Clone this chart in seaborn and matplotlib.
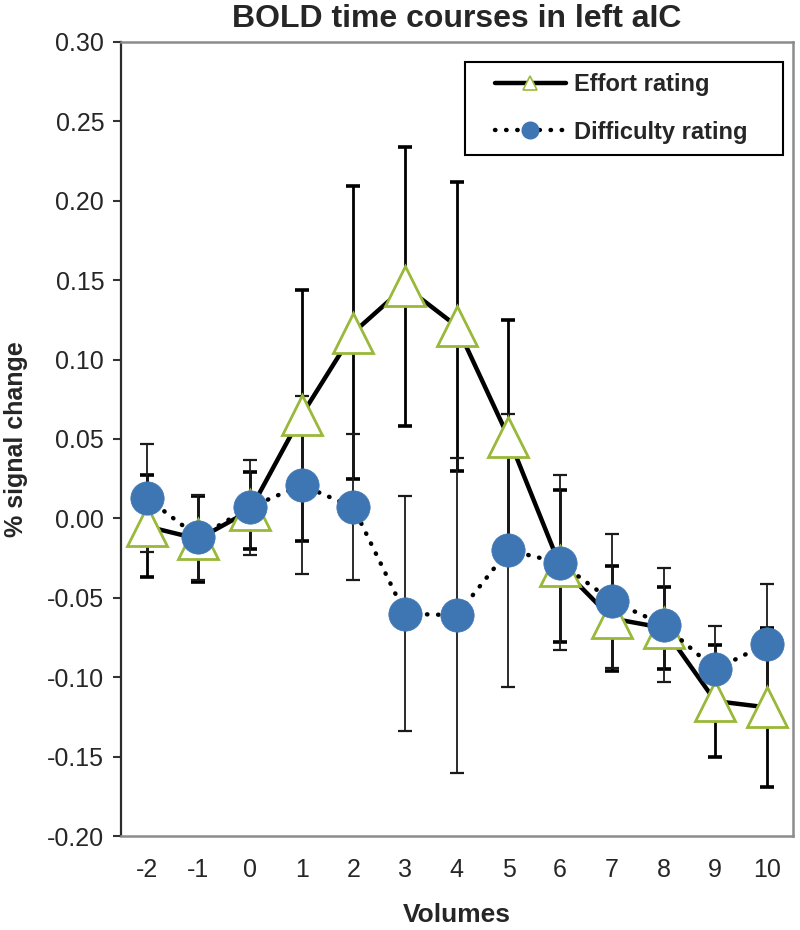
import numpy as np
import seaborn as sns
import matplotlib.pyplot as plt
from matplotlib.lines import Line2D
from matplotlib.patches import Rectangle

# Data
volumes = [-2, -1, 0, 1, 2, 3, 4, 5, 6, 7, 8, 9, 10]
effort = [-0.005, -0.013, 0.005, 0.065, 0.117, 0.146, 0.121, 0.051, -0.030, -0.063, -0.069, -0.115, -0.119]
effort_err = [0.032, 0.027, 0.024, 0.079, 0.092, 0.088, 0.091, 0.074, 0.048, 0.033, 0.026, 0.035, 0.050]
difficulty = [0.013, -0.012, 0.007, 0.021, 0.007, -0.060, -0.061, -0.020, -0.028, -0.052, -0.067, -0.095, -0.079]
difficulty_err = [0.034, 0.027, 0.030, 0.056, 0.046, 0.074, 0.099, 0.086, 0.055, 0.042, 0.036, 0.027, 0.038]
y_ticks = [-0.20, -0.15, -0.10, -0.05, 0.00, 0.05, 0.10, 0.15, 0.20, 0.25, 0.30]

blue = '#3E76B3'
olive = '#9AB83A'

sns.set_style("white")
plt.rcParams['font.family'] = ['Liberation Sans', 'DejaVu Sans']

fig, ax = plt.subplots(figsize=(8, 9.3), dpi=100)
fig.subplots_adjust(left=0.151, right=0.991, top=0.955, bottom=0.101)

# Error bars underneath everything
ax.errorbar(volumes, effort, yerr=effort_err, fmt='none', ecolor='black',
            elinewidth=2.0, capsize=4.7, capthick=2.6, zorder=1)
ax.errorbar(volumes, difficulty, yerr=difficulty_err, fmt='none', ecolor='#1a1a1a',
            elinewidth=1.3, capsize=4.7, capthick=1.6, zorder=1)

# Effort: solid black line with open olive triangles
sns.lineplot(x=volumes, y=effort, ax=ax, color='black', linewidth=3.2,
             marker='^', markersize=29, markerfacecolor='white',
             markeredgecolor=olive, markeredgewidth=2.0, zorder=3)

# Difficulty: dotted line with blue circles
sns.lineplot(x=volumes, y=difficulty, ax=ax, color='black', linewidth=3.2,
             marker='o', markersize=24, markerfacecolor=blue,
             markeredgecolor=blue, markeredgewidth=0.5, zorder=4)
ax.lines[-1].set_linestyle((0, (0.1, 2.4)))
ax.lines[-1].set_dash_capstyle('round')

ax.set_xlim(-2.5, 10.5)
ax.set_ylim(-0.20, 0.30)
ax.set_xticks(volumes)
ax.set_xticklabels([str(v) for v in volumes])
ax.set_yticks(y_ticks)
ax.set_yticklabels([f'{t:.2f}' for t in y_ticks])
ax.tick_params(axis='x', length=0, pad=16, labelsize=18)
ax.tick_params(axis='y', left=True, direction='out', length=6, width=1.5,
               color='#333333', pad=6, labelsize=18)

for side in ['top', 'right', 'bottom']:
    ax.spines[side].set_color('#8c8c8c')
    ax.spines[side].set_linewidth(1.8)
ax.spines['left'].set_color('#2b2b2b')
ax.spines['left'].set_linewidth(1.6)

ax.set_title('BOLD time courses in left aIC', fontsize=23, fontweight='bold', pad=11)
ax.set_xlabel('Volumes', fontsize=19, fontweight='bold', labelpad=15)
ax.set_ylabel('% signal change', fontsize=18, fontweight='bold', labelpad=14)

# Legend box drawn separately so it can be wider than its contents
ax.add_patch(Rectangle((0.512, 0.858), 0.473, 0.117, transform=ax.transAxes,
                       facecolor='white', edgecolor='black', linewidth=1.5, zorder=6))
handles = [
    Line2D([], [], color='black', linewidth=3.2, marker='^', markersize=10,
           markerfacecolor='white', markeredgecolor=olive, markeredgewidth=1.2),
    Line2D([], [], color='black', linewidth=3.2, linestyle=(0, (0.1, 2.4)),
           dash_capstyle='round', marker='o', markersize=12,
           markerfacecolor=blue, markeredgecolor=blue),
]
leg = ax.legend(handles, ['Effort rating', 'Difficulty rating'],
                loc='upper left', bbox_to_anchor=(0.5565, 0.961), borderaxespad=0,
                frameon=False, prop={'weight': 'bold', 'size': 17}, handlelength=3.0,
                handletextpad=0.35, labelspacing=1.05, borderpad=0)
leg.set_zorder(7)

plt.savefig('out.png', dpi=100)
